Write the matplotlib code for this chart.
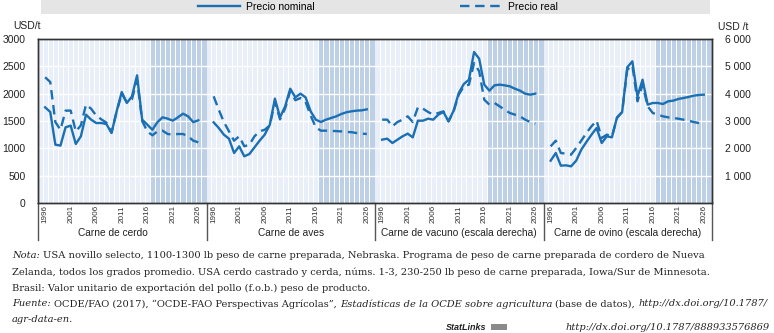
import matplotlib
matplotlib.use('Agg')
import matplotlib.pyplot as plt
from matplotlib.patches import Rectangle
from matplotlib.lines import Line2D
from matplotlib.transforms import blended_transform_factory

# --- Data (USD/t) ---
years = list(range(1996, 2027))

pork_nominal = [1750, 1665, 1067, 1050, 1385, 1415, 1080, 1220, 1616, 1525, 1463,
                1463, 1445, 1280, 1677, 2030, 1830, 1950, 2335, 1525, 1433, 1340,
                1480, 1567, 1543, 1506, 1567, 1634, 1585, 1480, 1512]
pork_real = [2300, 2213, 1480, 1340, 1690, 1690, 1310, 1420, 1800, 1725, 1600,
             1530, 1470, 1290, 1670, 2000, 1840, 1900, 2250, 1500, 1310, 1238,
             1310, 1323, 1262, 1250, 1262, 1262, 1220, 1140, 1110]

poultry_nominal = [1475, 1372, 1250, 1177, 915, 1037, 854, 896, 1018, 1140, 1250,
                   1433, 1909, 1567, 1768, 2091, 1933, 2000, 1933, 1677, 1524, 1482,
                   1524, 1555, 1585, 1628, 1660, 1677, 1690, 1695, 1713]
poultry_real = [1951, 1707, 1482, 1311, 1140, 1220, 1037, 1067, 1220, 1311, 1340,
                1420, 1850, 1530, 1730, 2050, 1880, 1920, 1850, 1600, 1384, 1323,
                1323, 1320, 1315, 1310, 1300, 1295, 1280, 1270, 1262]

# right-hand scale
beef_nominal = [2317, 2354, 2195, 2317, 2439, 2537, 2402, 3012, 3012, 3085, 3049,
                3232, 3329, 2988, 3378, 4024, 4354, 4512, 5524, 5280, 4329, 4110,
                4305, 4330, 4305, 4268, 4183, 4110, 4000, 3963, 4000]
beef_real = [3049, 3049, 2805, 2963, 3049, 3171, 2963, 3500, 3451, 3329, 3232,
             3293, 3354, 2988, 3354, 3963, 4268, 4329, 5122, 4817, 3780, 3598,
             3659, 3537, 3415, 3293, 3232, 3171, 3049, 2963, 2900]

sheep_nominal = [1549, 1829, 1366, 1378, 1341, 1549, 1951, 2232, 2500, 2744, 2195,
                 2439, 2402, 3134, 3329, 4963, 5183, 3902, 4512, 3598, 3659, 3659,
                 3622, 3720, 3744, 3805, 3841, 3878, 3927, 3951, 3963]
sheep_real = [2073, 2280, 1829, 1805, 1768, 2012, 2280, 2561, 2805, 3012, 2378,
              2500, 2439, 3110, 3329, 4878, 5037, 3720, 4329, 3537, 3293, 3232,
              3171, 3134, 3110, 3085, 3049, 3012, 2963, 2927, 2902]

panel_names = ['Carne de cerdo', 'Carne de aves',
               'Carne de vacuno (escala derecha)', 'Carne de ovino (escala derecha)']
tick_years = [1996, 2001, 2006, 2011, 2016, 2021, 2026]
left_ticks = [0, 500, 1000, 1500, 2000, 2500, 3000]
right_ticks = [1000, 2000, 3000, 4000, 5000, 6000]

# --- Style ---
BLUE = '#1b6fb3'
BG = '#e9eff8'
PROJ = '#bdd0e6'
PANEL_W = 33.0
FIRST = 1994.6
PROJ_START = 2016.5
DASH = (0, (4, 2.4))
SANS = 'Liberation Sans'
SERIF = 'DejaVu Serif'


def xpos(panel, yrs):
    return [panel * PANEL_W + (y - FIRST) for y in yrs]


fig = plt.figure(figsize=(7.74, 3.33), dpi=100)
ax = fig.add_axes([38 / 774, 1 - 203 / 333, 674 / 774, 164 / 333])
ax.set_facecolor(BG)
ax.set_xlim(0, 4 * PANEL_W)
ax.set_ylim(0, 3000)

for p in range(4):
    ax.axvspan(p * PANEL_W + PROJ_START - FIRST, (p + 1) * PANEL_W,
               color=PROJ, lw=0, zorder=0.2)
    for y in range(1994, 2028):
        x = p * PANEL_W + y + 0.5 - FIRST
        if p * PANEL_W < x < (p + 1) * PANEL_W - 0.3:
            ax.axvline(x, color='white', lw=0.7, zorder=0.4)
for v in left_ticks[1:-1]:
    ax.axhline(v, color='white', lw=1.0, zorder=0.5)

ax.plot(xpos(0, years), pork_nominal, color=BLUE, lw=1.7, zorder=3)
ax.plot(xpos(0, years), pork_real, color=BLUE, lw=1.7, ls=DASH, zorder=3)
ax.plot(xpos(1, years), poultry_nominal, color=BLUE, lw=1.7, zorder=3)
ax.plot(xpos(1, years), poultry_real, color=BLUE, lw=1.7, ls=DASH, zorder=3)

ax2 = ax.twinx()
ax2.set_ylim(0, 6000)
ax2.plot(xpos(2, years), beef_nominal, color=BLUE, lw=1.7)
ax2.plot(xpos(2, years), beef_real, color=BLUE, lw=1.7, ls=DASH)
ax2.plot(xpos(3, years), sheep_nominal, color=BLUE, lw=1.7)
ax2.plot(xpos(3, years), sheep_real, color=BLUE, lw=1.7, ls=DASH)

# axes, ticks
xt = [x for p in range(4) for x in xpos(p, tick_years)]
ax.set_xticks(xt)
ax.set_xticklabels([str(y) for p in range(4) for y in tick_years],
                   rotation=90, fontsize=5.9, family=SANS, color='#333333')
ax.tick_params(axis='x', length=0, pad=1.5)
ax.set_yticks(left_ticks)
ax.set_yticklabels([str(v) for v in left_ticks], fontsize=7.5, family=SANS,
                   color='#222222')
ax.tick_params(axis='y', length=0, pad=9)
ax2.set_yticks(right_ticks)
ax2.set_yticklabels([f'{v:,}'.replace(',', ' ') for v in right_ticks],
                    fontsize=7.5, family=SANS, color='#222222')
ax2.tick_params(axis='y', length=0, pad=9)
for a in (ax, ax2):
    for s in a.spines.values():
        s.set_color('#333333')
        s.set_linewidth(1.0)

# separators below the axis and category names
trans = blended_transform_factory(ax.transData, ax.transAxes)
for p in range(5):
    ax.plot([p * PANEL_W, p * PANEL_W], [0, -0.226], color='#555555', lw=1.0,
            transform=trans, clip_on=False)
label_shift = [-1.8, 0, 0, 0]
for p, name in enumerate(panel_names):
    ax.text((p + 0.5) * PANEL_W + label_shift[p], -0.18, name, transform=trans,
            ha='center', va='center', fontsize=7.3, family=SANS, color='#222222')

fig.text(13 / 774, 1 - 26 / 333, 'USD/t', fontsize=7.5, family=SANS,
         va='center', ha='left', color='#222222')
fig.text(718 / 774, 1 - 27 / 333, 'USD /t', fontsize=7.5, family=SANS,
         va='center', ha='left', color='#222222')

# legend band
fig.patches.append(Rectangle((41 / 774, 1 - 14 / 333), 669 / 774, 14 / 333,
                             transform=fig.transFigure, facecolor='#e5e5e5',
                             edgecolor='none', zorder=0))
handles = [Line2D([], [], color=BLUE, lw=1.7),
           Line2D([], [], color=BLUE, lw=1.7, ls=DASH)]
fig.legend(handles, ['Precio nominal', 'Precio real'], ncol=2, frameon=False,
           loc='center', bbox_to_anchor=(378 / 774, 1 - 7 / 333),
           prop={'family': SANS, 'size': 7.5}, handlelength=4.0,
           columnspacing=14, handletextpad=0.6, borderpad=0)

# notes with mixed italic runs
renderer = fig.canvas.get_renderer()


def text_width(s, **kw):
    t = fig.text(0, 0, s, **kw)
    w = t.get_window_extent(renderer).width
    t.remove()
    return w


def space_width(fs):
    return (text_width('n n', family=SERIF, fontsize=fs)
            - text_width('nn', family=SERIF, fontsize=fs))


def runs_width(runs, fs):
    w = 0
    for txt, style in runs:
        if txt.startswith(' '):
            w += space_width(fs)
        w += text_width(txt.strip(), family=SERIF, fontsize=fs, style=style)
    return w


def draw_runs(x_px, y_px, runs, fs):
    x = x_px
    for txt, style in runs:
        if txt.startswith(' '):
            x += space_width(fs)
        t = fig.text(x / 774, 1 - y_px / 333, txt.strip(), family=SERIF,
                     fontsize=fs, style=style, va='center', ha='left',
                     color='#222222')
        x += t.get_window_extent(renderer).width
    return x


def fit_size(runs, target):
    return 8 * target / runs_width(runs, 8)


line1 = [('Nota:', 'italic'),
         (' USA novillo selecto, 1100-1300 lb peso de carne preparada, '
          'Nebraska. Programa de peso de carne preparada de cordero de Nueva',
          'normal')]
line2 = [('Zelanda, todos los grados promedio. USA cerdo castrado y cerda, '
          'núms. 1-3, 230-250 lb peso de carne preparada, Iowa/Sur de Minnesota.',
          'normal')]
line3 = [('Brasil: Valor unitario de exportación del pollo (f.o.b.) '
          'peso de producto.', 'normal')]
line4 = [('Fuente:', 'italic'),
         (' OCDE/FAO (2017), “OCDE-FAO Perspectivas Agrícolas”,', 'normal'),
         (' Estadísticas de la OCDE sobre agricultura', 'italic'),
         (' (base de datos),', 'normal'),
         (' http://dx.doi.org/10.1787/', 'italic')]
line5 = [('agr-data-en.', 'italic')]

# one size for all notes, as wide as the long lines allow
FS = min(fit_size(line1, 743), fit_size(line2, 748), fit_size(line4, 758))
for runs, y in [(line1, 256), (line2, 272), (line3, 288), (line4, 304), (line5, 320)]:
    draw_runs(12, y, runs, FS)

fig.text(770 / 774, 1 - 327 / 333, 'http://dx.doi.org/10.1787/888933576869',
         family=SERIF, fontsize=FS, style='italic', ha='right', va='center',
         color='#222222')
fig.patches.append(Rectangle((491 / 774, 1 - 330 / 333), 16 / 774, 6 / 333,
                             transform=fig.transFigure, facecolor='#8a8a8a',
                             edgecolor='none'))
fig.text(486 / 774, 1 - 327 / 333, 'StatLinks', family=SANS, fontsize=6.5,
         weight='bold', style='italic', ha='right', va='center', color='#222222')

fig.savefig('out.png', dpi=100)
